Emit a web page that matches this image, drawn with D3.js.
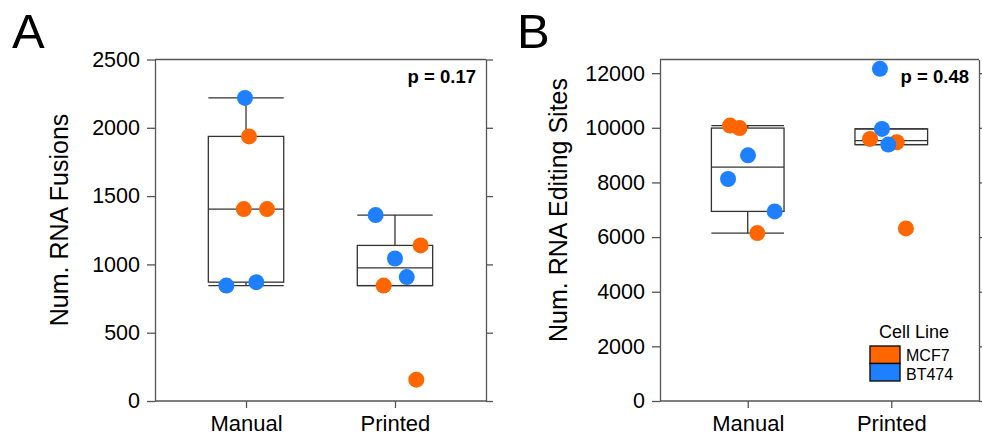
<!DOCTYPE html>
<html>
<head>
<meta charset="utf-8">
<script src="https://cdn.jsdelivr.net/npm/d3@7"></script>
<style>
  body { margin: 0; background: #fff; }
  svg text { font-family: Arial, "Liberation Sans", sans-serif; fill: #000; }
  .axis path, .axis line { stroke: #555; stroke-width: 1.3; }
</style>
</head>
<body>
<script>
// categories
const groups = ["Manual", "Printed"];
const cellLines = ["MCF7", "BT474"];
const cellColors = ["#ff6600", "#1e80ff"];

// panel A - RNA fusions
const fusManualVal  = [2219, 1937, 1405, 1405, 845, 870];
const fusManualCell = ["BT474", "MCF7", "MCF7", "MCF7", "BT474", "BT474"];
const fusManualJit  = [-0.007, 0.020, -0.015, 0.141, -0.132, 0.069];
const fusPrintedVal  = [1361, 1139, 1043, 907, 845, 156];
const fusPrintedCell = ["BT474", "MCF7", "BT474", "BT474", "MCF7", "MCF7"];
const fusPrintedJit  = [-0.130, 0.172, 0.0, 0.079, -0.076, 0.143];
const fusTicks = [0, 500, 1000, 1500, 2000, 2500];

// panel B - RNA editing sites
const edManualVal  = [10081, 9990, 8993, 8127, 6940, 6147];
const edManualCell = ["MCF7", "MCF7", "BT474", "BT474", "BT474", "MCF7"];
const edManualJit  = [-0.123, -0.057, 0.002, -0.137, 0.188, 0.067];
const edPrintedVal  = [12160, 9960, 9593, 9470, 9385, 6317];
const edPrintedCell = ["BT474", "BT474", "MCF7", "MCF7", "BT474", "MCF7"];
const edPrintedJit  = [-0.079, -0.065, -0.148, 0.038, -0.021, 0.102];
const edTicks = [0, 2000, 4000, 6000, 8000, 10000, 12000];

const color = d3.scaleOrdinal(cellLines, cellColors);

const svg = d3.select("body").append("svg")
  .attr("width", 982).attr("height", 439);

function pts(vals, cells, jit, g) {
  return vals.map((v, i) => ({value: v, cell: cells[i], jit: jit[i], group: g}));
}

// tukey hinges + 1.5 IQR whiskers
function boxStats(vals) {
  const s = vals.slice().sort(d3.ascending);
  const n = s.length, h = Math.floor((n + 1) / 2);
  const lo = s.slice(0, h), hi = s.slice(n - h);
  const q1 = d3.median(lo), q3 = d3.median(hi), med = d3.median(s);
  const iqr = q3 - q1;
  const wLo = d3.min(s.filter(v => v >= q1 - 1.5 * iqr));
  const wHi = d3.max(s.filter(v => v <= q3 + 1.5 * iqr));
  return {q1, q3, med, wLo, wHi};
}

function panel(opt) {
  const x = d3.scalePoint(groups, [opt.left, opt.right]).padding(0.611);
  const y = d3.scaleLinear([0, opt.max], [401, 59.5]);
  const bw = x.step() * 0.506;
  const g = svg.append("g");

  // frame top line
  g.append("line")
    .attr("x1", opt.left).attr("x2", opt.right)
    .attr("y1", y(opt.max)).attr("y2", y(opt.max))
    .attr("stroke", "#555").attr("stroke-width", 1.3);

  g.append("g").attr("class", "axis")
    .attr("transform", `translate(${opt.left},0)`)
    .call(d3.axisLeft(y).tickValues(opt.ticks).tickSize(8).tickSizeOuter(0)
      .tickPadding(7).tickFormat(d3.format("d")))
    .call(a => a.selectAll("text").style("font-size", "21.5px"));

  g.append("g").attr("class", "axis")
    .attr("transform", `translate(${opt.right},0)`)
    .call(d3.axisRight(y).tickValues(opt.ticks).tickSize(7).tickSizeOuter(0).tickFormat(""));

  g.append("g").attr("class", "axis")
    .attr("transform", "translate(0,401)")
    .call(d3.axisBottom(x).tickSize(7).tickSizeOuter(0))
    .call(a => a.select(".domain").attr("d", `M${opt.left},0H${opt.right}`))
    .call(a => a.selectAll("text").attr("y", 29.5).attr("dy", 0).style("font-size", "22px"));

  // boxes
  opt.data.forEach(grp => {
    const st = boxStats(grp.map(d => d.value));
    const cx = x(grp[0].group);
    const bg = g.append("g").attr("stroke", "#333").attr("stroke-width", 1.3).attr("fill", "none");
    bg.append("line").attr("x1", cx).attr("x2", cx).attr("y1", y(st.wHi)).attr("y2", y(st.q3));
    bg.append("line").attr("x1", cx).attr("x2", cx).attr("y1", y(st.q1)).attr("y2", y(st.wLo));
    [st.wHi, st.wLo].forEach(v => bg.append("line")
      .attr("x1", cx - bw / 2).attr("x2", cx + bw / 2).attr("y1", y(v)).attr("y2", y(v)));
    bg.append("rect").attr("x", cx - bw / 2).attr("width", bw)
      .attr("y", y(st.q3)).attr("height", y(st.q1) - y(st.q3));
    bg.append("line").attr("x1", cx - bw / 2).attr("x2", cx + bw / 2)
      .attr("y1", y(st.med)).attr("y2", y(st.med));
  });

  // points
  g.append("g").selectAll("circle")
    .data(opt.data.flat())
    .join("circle")
      .attr("cx", d => x(d.group) + d.jit * x.step())
      .attr("cy", d => y(d.value))
      .attr("r", 8)
      .attr("fill", d => color(d.cell));

  // p value
  g.append("text")
    .attr("x", opt.right - 10).attr("y", 82.5)
    .attr("text-anchor", "end")
    .style("font-size", "18.5px").style("font-weight", "bold")
    .text(opt.p);

  // y title
  g.append("text")
    .attr("transform", `translate(${opt.titleX},${opt.titleY}) rotate(-90)`)
    .attr("text-anchor", "middle")
    .style("font-size", "25px")
    .text(opt.title);

  // panel letter
  g.append("text")
    .attr("x", opt.letterX).attr("y", 48)
    .style("font-size", "49px")
    .text(opt.letter);
}

panel({
  left: 155, right: 486, max: 2500, ticks: fusTicks,
  data: [pts(fusManualVal, fusManualCell, fusManualJit, "Manual"),
         pts(fusPrintedVal, fusPrintedCell, fusPrintedJit, "Printed")],
  p: "p = 0.17", title: "Num. RNA Fusions", titleX: 68, titleY: 220,
  letter: "A", letterX: 12
});

panel({
  left: 660, right: 979, max: 12500, ticks: edTicks,
  data: [pts(edManualVal, edManualCell, edManualJit, "Manual"),
         pts(edPrintedVal, edPrintedCell, edPrintedJit, "Printed")],
  p: "p = 0.48", title: "Num. RNA Editing Sites", titleX: 567, titleY: 210,
  letter: "B", letterX: 517
});

// legend
const leg = svg.append("g").attr("transform", "translate(870,346)");
leg.append("text").attr("x", 44).attr("y", -8)
  .attr("text-anchor", "middle").style("font-size", "18px").text("Cell Line");
leg.selectAll("rect").data(cellLines).join("rect")
  .attr("x", 0).attr("y", (d, i) => i * 17.5)
  .attr("width", 30).attr("height", 17.5)
  .attr("fill", d => color(d)).attr("stroke", "#111").attr("stroke-width", 1.4);
leg.selectAll("text.lab").data(cellLines).join("text")
  .attr("class", "lab")
  .attr("x", 36).attr("y", (d, i) => 15 + i * 18.6)
  .style("font-size", "16px").text(d => d);
</script>
</body>
</html>
